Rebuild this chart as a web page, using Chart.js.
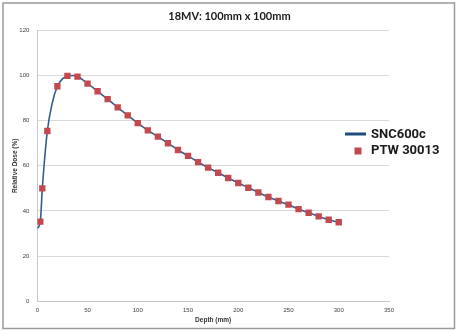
<!DOCTYPE html>
<html>
<head>
<meta charset="utf-8">
<script src="https://cdn.jsdelivr.net/npm/chart.js@4.4.1/dist/chart.umd.min.js"></script>
<style>
  html, body { margin: 0; padding: 0; background: #ffffff; }
  #wrap { width: 458px; height: 333px; position: relative; }
</style>
</head>
<body>
<div id="wrap"><canvas id="c" width="458" height="333"></canvas></div>
<script>
// ---- data ----
const chartTitle = '18MV: 100mm x 100mm';
const xTitle = 'Depth (mm)';
const yTitle = 'Relative Dose (%)';
const seriesNames = ['SNC600c', 'PTW 30013'];

const sncDepth = [0, 3, 5, 10, 15, 20, 25, 30, 35, 40, 50, 60, 70, 80, 90, 100, 110, 120, 130, 140, 150, 160, 170, 180, 190, 200, 210, 220, 230, 240, 250, 260, 270, 280, 290, 300];
const sncDose  = [32.3, 35.3, 50.0, 75.4, 88.0, 95.2, 98.5, 99.8, 100.0, 99.5, 96.4, 93.0, 89.5, 85.9, 82.3, 78.9, 75.7, 72.9, 70.0, 67.0, 64.4, 61.6, 59.2, 56.9, 54.6, 52.4, 50.3, 48.2, 46.2, 44.4, 42.7, 40.9, 39.2, 37.6, 36.1, 35.0];

const ptwDepth = [3, 5, 10, 20, 30, 40, 50, 60, 70, 80, 90, 100, 110, 120, 130, 140, 150, 160, 170, 180, 190, 200, 210, 220, 230, 240, 250, 260, 270, 280, 290, 300];
const ptwDose  = [35.3, 50.0, 75.4, 95.2, 99.8, 99.5, 96.4, 93.0, 89.5, 85.9, 82.3, 78.9, 75.7, 72.9, 70.0, 67.0, 64.4, 61.6, 59.2, 56.9, 54.6, 52.4, 50.3, 48.2, 46.2, 44.4, 42.8, 40.8, 39.2, 37.6, 36.1, 35.0];

const xTicks = [0, 50, 100, 150, 200, 250, 300, 350];
const yTicks = [0, 20, 40, 60, 80, 100, 120];

// ---- styles ----
const lineColor = '#2f5f8e';
const legendLineColor = '#1d4d7c';
const markerColor = '#c4484f';

const toXY = (xs, ys) => xs.map((x, i) => ({ x: x, y: ys[i] }));

const frame = {
  id: 'frame',
  beforeDraw(chart) {
    const ctx = chart.ctx;
    ctx.save();
    ctx.fillStyle = '#ffffff';
    ctx.fillRect(0, 0, chart.width, chart.height);
    ctx.strokeStyle = '#9a9a9a';
    ctx.lineWidth = 1.5;
    ctx.strokeRect(3, 3, 451.5, 325.5);
    ctx.restore();
  }
};

const overlayText = {
  id: 'overlayText',
  afterDraw(chart) {
    const ctx = chart.ctx;
    ctx.save();
    // title
    ctx.font = 'bold 11px Lato';
    ctx.fillStyle = '#1a1a1a';
    ctx.textAlign = 'center';
    ctx.textBaseline = 'middle';
    ctx.fillText(chartTitle, 229.5, 16);
    // legend
    ctx.font = 'bold 13px Roboto';
    ctx.textAlign = 'left';
    ctx.strokeStyle = legendLineColor;
    ctx.lineWidth = 3;
    ctx.beginPath();
    ctx.moveTo(345, 134);
    ctx.lineTo(366, 134);
    ctx.stroke();
    ctx.fillStyle = '#1a1a1a';
    ctx.fillText(chart.data.datasets[0].label, 371, 134.5);
    ctx.fillStyle = markerColor;
    ctx.fillRect(354.5, 147.5, 7, 7);
    ctx.fillStyle = '#1a1a1a';
    ctx.fillText(chart.data.datasets[1].label, 371, 151);
    ctx.restore();
  }
};

new Chart(document.getElementById('c'), {
  type: 'scatter',
  data: {
    datasets: [
      {
        label: seriesNames[0],
        data: toXY(sncDepth, sncDose),
        showLine: true,
        borderColor: lineColor,
        backgroundColor: lineColor,
        borderWidth: 1.6,
        pointRadius: 0,
        cubicInterpolationMode: 'monotone',
        order: 2
      },
      {
        label: seriesNames[1],
        data: toXY(ptwDepth, ptwDose),
        showLine: false,
        pointStyle: 'rect',
        pointRadius: 4.5,
        pointBorderWidth: 0,
        backgroundColor: markerColor,
        borderColor: markerColor,
        order: 1
      }
    ]
  },
  options: {
    responsive: false,
    animation: false,
    devicePixelRatio: 1,
    layout: { padding: { left: 0, right: 69, top: 30.3, bottom: 0 } },
    plugins: {
      legend: { display: false },
      tooltip: { enabled: false },
      title: { display: false }
    },
    scales: {
      x: {
        type: 'linear',
        min: 0,
        max: 350,
        afterBuildTicks: (s) => { s.ticks = xTicks.map(v => ({ value: v })); },
        afterFit: (s) => { s.height = 31.7; },
        ticks: {
          color: '#404040',
          font: { family: 'Liberation Sans', size: 6 },
          padding: 5,
          maxRotation: 0
        },
        grid: { display: true, drawOnChartArea: false, drawTicks: false },
        border: { display: true, color: '#c8c8c8', width: 1 },
        title: {
          display: true,
          text: xTitle,
          color: '#333333',
          font: { family: 'Liberation Sans', size: 6.5, weight: 'bold' },
          padding: { top: 0, bottom: 9 }
        }
      },
      y: {
        type: 'linear',
        min: 0,
        max: 120,
        afterBuildTicks: (s) => { s.ticks = yTicks.map(v => ({ value: v })); },
        afterFit: (s) => { s.width = 37.3; },
        ticks: {
          color: '#404040',
          font: { family: 'Liberation Sans', size: 6 },
          padding: 8
        },
        grid: { color: '#d9d9d9', lineWidth: 1, drawTicks: false },
        border: { display: true, color: '#c8c8c8', width: 1 },
        title: {
          display: true,
          text: yTitle,
          color: '#333333',
          font: { family: 'Liberation Sans', size: 6.5, weight: 'bold' },
          padding: { top: 11, bottom: 0 }
        }
      }
    }
  },
  plugins: [frame, overlayText]
});
</script>
</body>
</html>
